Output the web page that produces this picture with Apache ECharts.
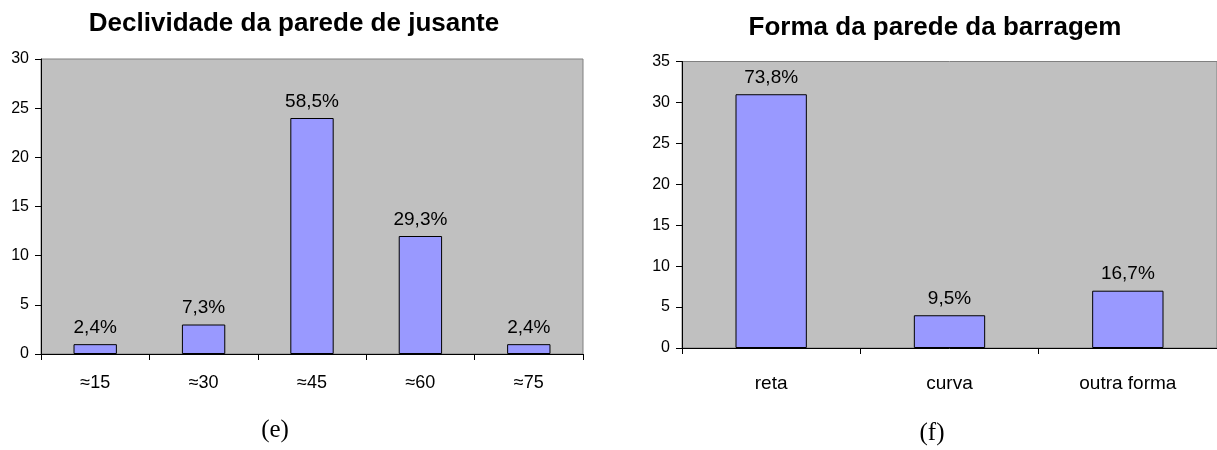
<!DOCTYPE html>
<html>
<head>
<meta charset="utf-8">
<script src="https://cdn.jsdelivr.net/npm/echarts@6/dist/echarts.min.js"></script>
<style>
html,body{margin:0;padding:0;background:#fff;}
#c{width:1217px;height:450px;}
</style>
</head>
<body>
<div id="c"></div>
<script>
const leftCategories = ['≈15', '≈30', '≈45', '≈60', '≈75'];
const leftValues = [1, 3, 24, 12, 1];
const leftLabels = ['2,4%', '7,3%', '58,5%', '29,3%', '2,4%'];
const leftTitle = 'Declividade da parede de jusante';

const rightCategories = ['reta', 'curva', 'outra forma'];
const rightValues = [31, 4, 7];
const rightLabels = ['73,8%', '9,5%', '16,7%'];
const rightTitle = 'Forma da parede da barragem';

const FONT = '"Liberation Sans", Arial, sans-serif';

function catAxis(gridIndex, cats, size, margin) {
  return {
    type: 'category', gridIndex: gridIndex, data: cats, boundaryGap: true,
    axisLine: { show: true, lineStyle: { color: '#000', width: 1 } },
    axisTick: { show: true, alignWithLabel: false, length: 6, inside: false, lineStyle: { color: '#000' } },
    axisLabel: { interval: 0, color: '#000', fontSize: size, fontFamily: FONT, margin: margin },
    splitLine: { show: false }
  };
}
function valAxis(gridIndex, max) {
  return {
    type: 'value', gridIndex: gridIndex, min: 0, max: max, interval: 5,
    axisLine: { show: true, lineStyle: { color: '#000', width: 1 } },
    axisTick: { show: true, length: 6, lineStyle: { color: '#000' } },
    axisLabel: { color: '#000', fontSize: 16, fontFamily: FONT, margin: 12 },
    splitLine: { show: false }
  };
}
function barSeries(idx, values, labels) {
  return {
    type: 'bar', xAxisIndex: idx, yAxisIndex: idx, data: values, barWidth: '40%',
    itemStyle: { color: '#9999ff', borderColor: '#000', borderWidth: 1 },
    label: {
      show: true, position: 'top', distance: 7, color: '#000', fontSize: 19, fontFamily: FONT,
      formatter: function (p) { return labels[p.dataIndex]; }
    },
    animation: false
  };
}

const chart = echarts.init(document.getElementById('c'), null, { renderer: 'canvas' });
chart.setOption({
  backgroundColor: '#fff',
  animation: false,
  grid: [
    { left: 41, top: 59, width: 542, height: 295, show: true, backgroundColor: '#c0c0c0', borderColor: '#808080', borderWidth: 1, containLabel: false },
    { left: 682, top: 61.5, width: 543, height: 286.5, show: true, backgroundColor: '#c0c0c0', borderColor: '#808080', borderWidth: 1, containLabel: false }
  ],
  xAxis: [catAxis(0, leftCategories, 18, 20), catAxis(1, rightCategories, 19, 26)],
  yAxis: [valAxis(0, 30), valAxis(1, 35)],
  series: [barSeries(0, leftValues, leftLabels), barSeries(1, rightValues, rightLabels)],
  graphic: [
    { type: 'text', x: 294, y: 24, style: { text: leftTitle, textAlign: 'center', textVerticalAlign: 'middle', fontSize: 26, fontWeight: 'bold', fontFamily: FONT, fill: '#000' } },
    { type: 'text', x: 935, y: 28, style: { text: rightTitle, textAlign: 'center', textVerticalAlign: 'middle', fontSize: 26, fontWeight: 'bold', fontFamily: FONT, fill: '#000' } },
    { type: 'text', x: 275, y: 430, style: { text: '(e)', textAlign: 'center', textVerticalAlign: 'middle', fontSize: 25, fontFamily: '"Liberation Serif", "Times New Roman", serif', fill: '#000' } },
    { type: 'text', x: 932, y: 433, style: { text: '(f)', textAlign: 'center', textVerticalAlign: 'middle', fontSize: 25, fontFamily: '"Liberation Serif", "Times New Roman", serif', fill: '#000' } }
  ]
});
</script>
</body>
</html>
